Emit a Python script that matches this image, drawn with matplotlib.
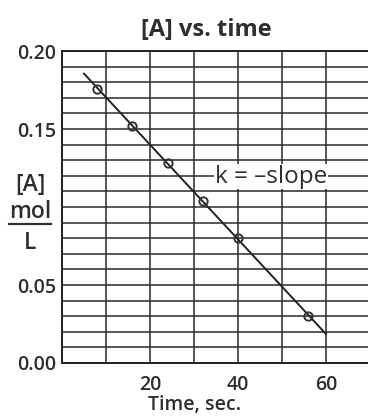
import numpy as np
import matplotlib.pyplot as plt
from matplotlib.lines import Line2D

# data
time_s = [8, 16, 24, 32, 40, 56]
conc_A = [0.176, 0.152, 0.128, 0.104, 0.080, 0.030]
x_ticks = [20, 40, 60]
y_ticks = [0.00, 0.05, 0.15, 0.20]

plt.rcParams['font.family'] = ['Open Sans', 'DejaVu Sans']
txt_col = '#2e2e2e'

fig = plt.figure(figsize=(3.68, 4.17), dpi=100)
ax = fig.add_axes([0.1685, 0.1295, 0.837, 0.748])

# grid: every 10 s and every 0.01 mol/L
for gx in np.arange(0, 71, 10):
    ax.axvline(gx, color='#2a2a2a', lw=1.1, zorder=1)
for gy in np.arange(0, 0.2001, 0.01):
    ax.axhline(gy, color='#2a2a2a', lw=1.1, zorder=1)

# best fit line through points
m, b = np.polyfit(time_s, conc_A, 1)
t_line = np.array([5, 60])
ax.plot(t_line, m * t_line + b, color='#222222', lw=1.4, zorder=3)
ax.plot(time_s, conc_A, 'o', ms=6, mfc='none', mec='#333333', mew=1.4, zorder=4)

ax.text(47.5, 0.1195, 'k = \u2013slope', fontsize=17.5, color=txt_col, ha='center', va='center',
        bbox=dict(facecolor='white', edgecolor='none', pad=0.3), zorder=5)

ax.set_xlim(0, 70)
ax.set_ylim(0, 0.2)
ax.set_xticks(x_ticks)
ax.set_yticks(y_ticks)
ax.set_yticklabels(['%.2f' % v for v in y_ticks])
ax.tick_params(length=0, labelsize=14, labelcolor=txt_col)
ax.tick_params(axis='x', pad=9)
ax.tick_params(axis='y', pad=4)
for lab in ax.get_xticklabels() + ax.get_yticklabels():
    lab.set_fontweight('semibold')

ax.spines['right'].set_visible(False)
for s in ['left', 'bottom', 'top']:
    ax.spines[s].set_linewidth(1.4)
    ax.spines[s].set_color('#222222')

ax.set_title('[A] vs. time', fontsize=17, fontweight='bold', color=txt_col, pad=11, x=0.47)
fig.text(0.53, 0.028, 'Time, sec.', fontsize=14, fontweight='semibold', color=txt_col,
         ha='center', va='center')

# y label: [A] over mol/L
fig.text(0.082, 0.556, '[A]', fontsize=16.5, fontweight='semibold', color=txt_col, ha='center', va='center')
fig.text(0.082, 0.492, 'mol', fontsize=16.5, fontweight='semibold', color=txt_col, ha='center', va='center')
fig.text(0.082, 0.418, 'L', fontsize=16.5, fontweight='semibold', color=txt_col, ha='center', va='center')
fig.add_artist(Line2D([0.025, 0.138], [0.462, 0.462], transform=fig.transFigure, color=txt_col, lw=1.6))

fig.savefig('out.png', dpi=100)
